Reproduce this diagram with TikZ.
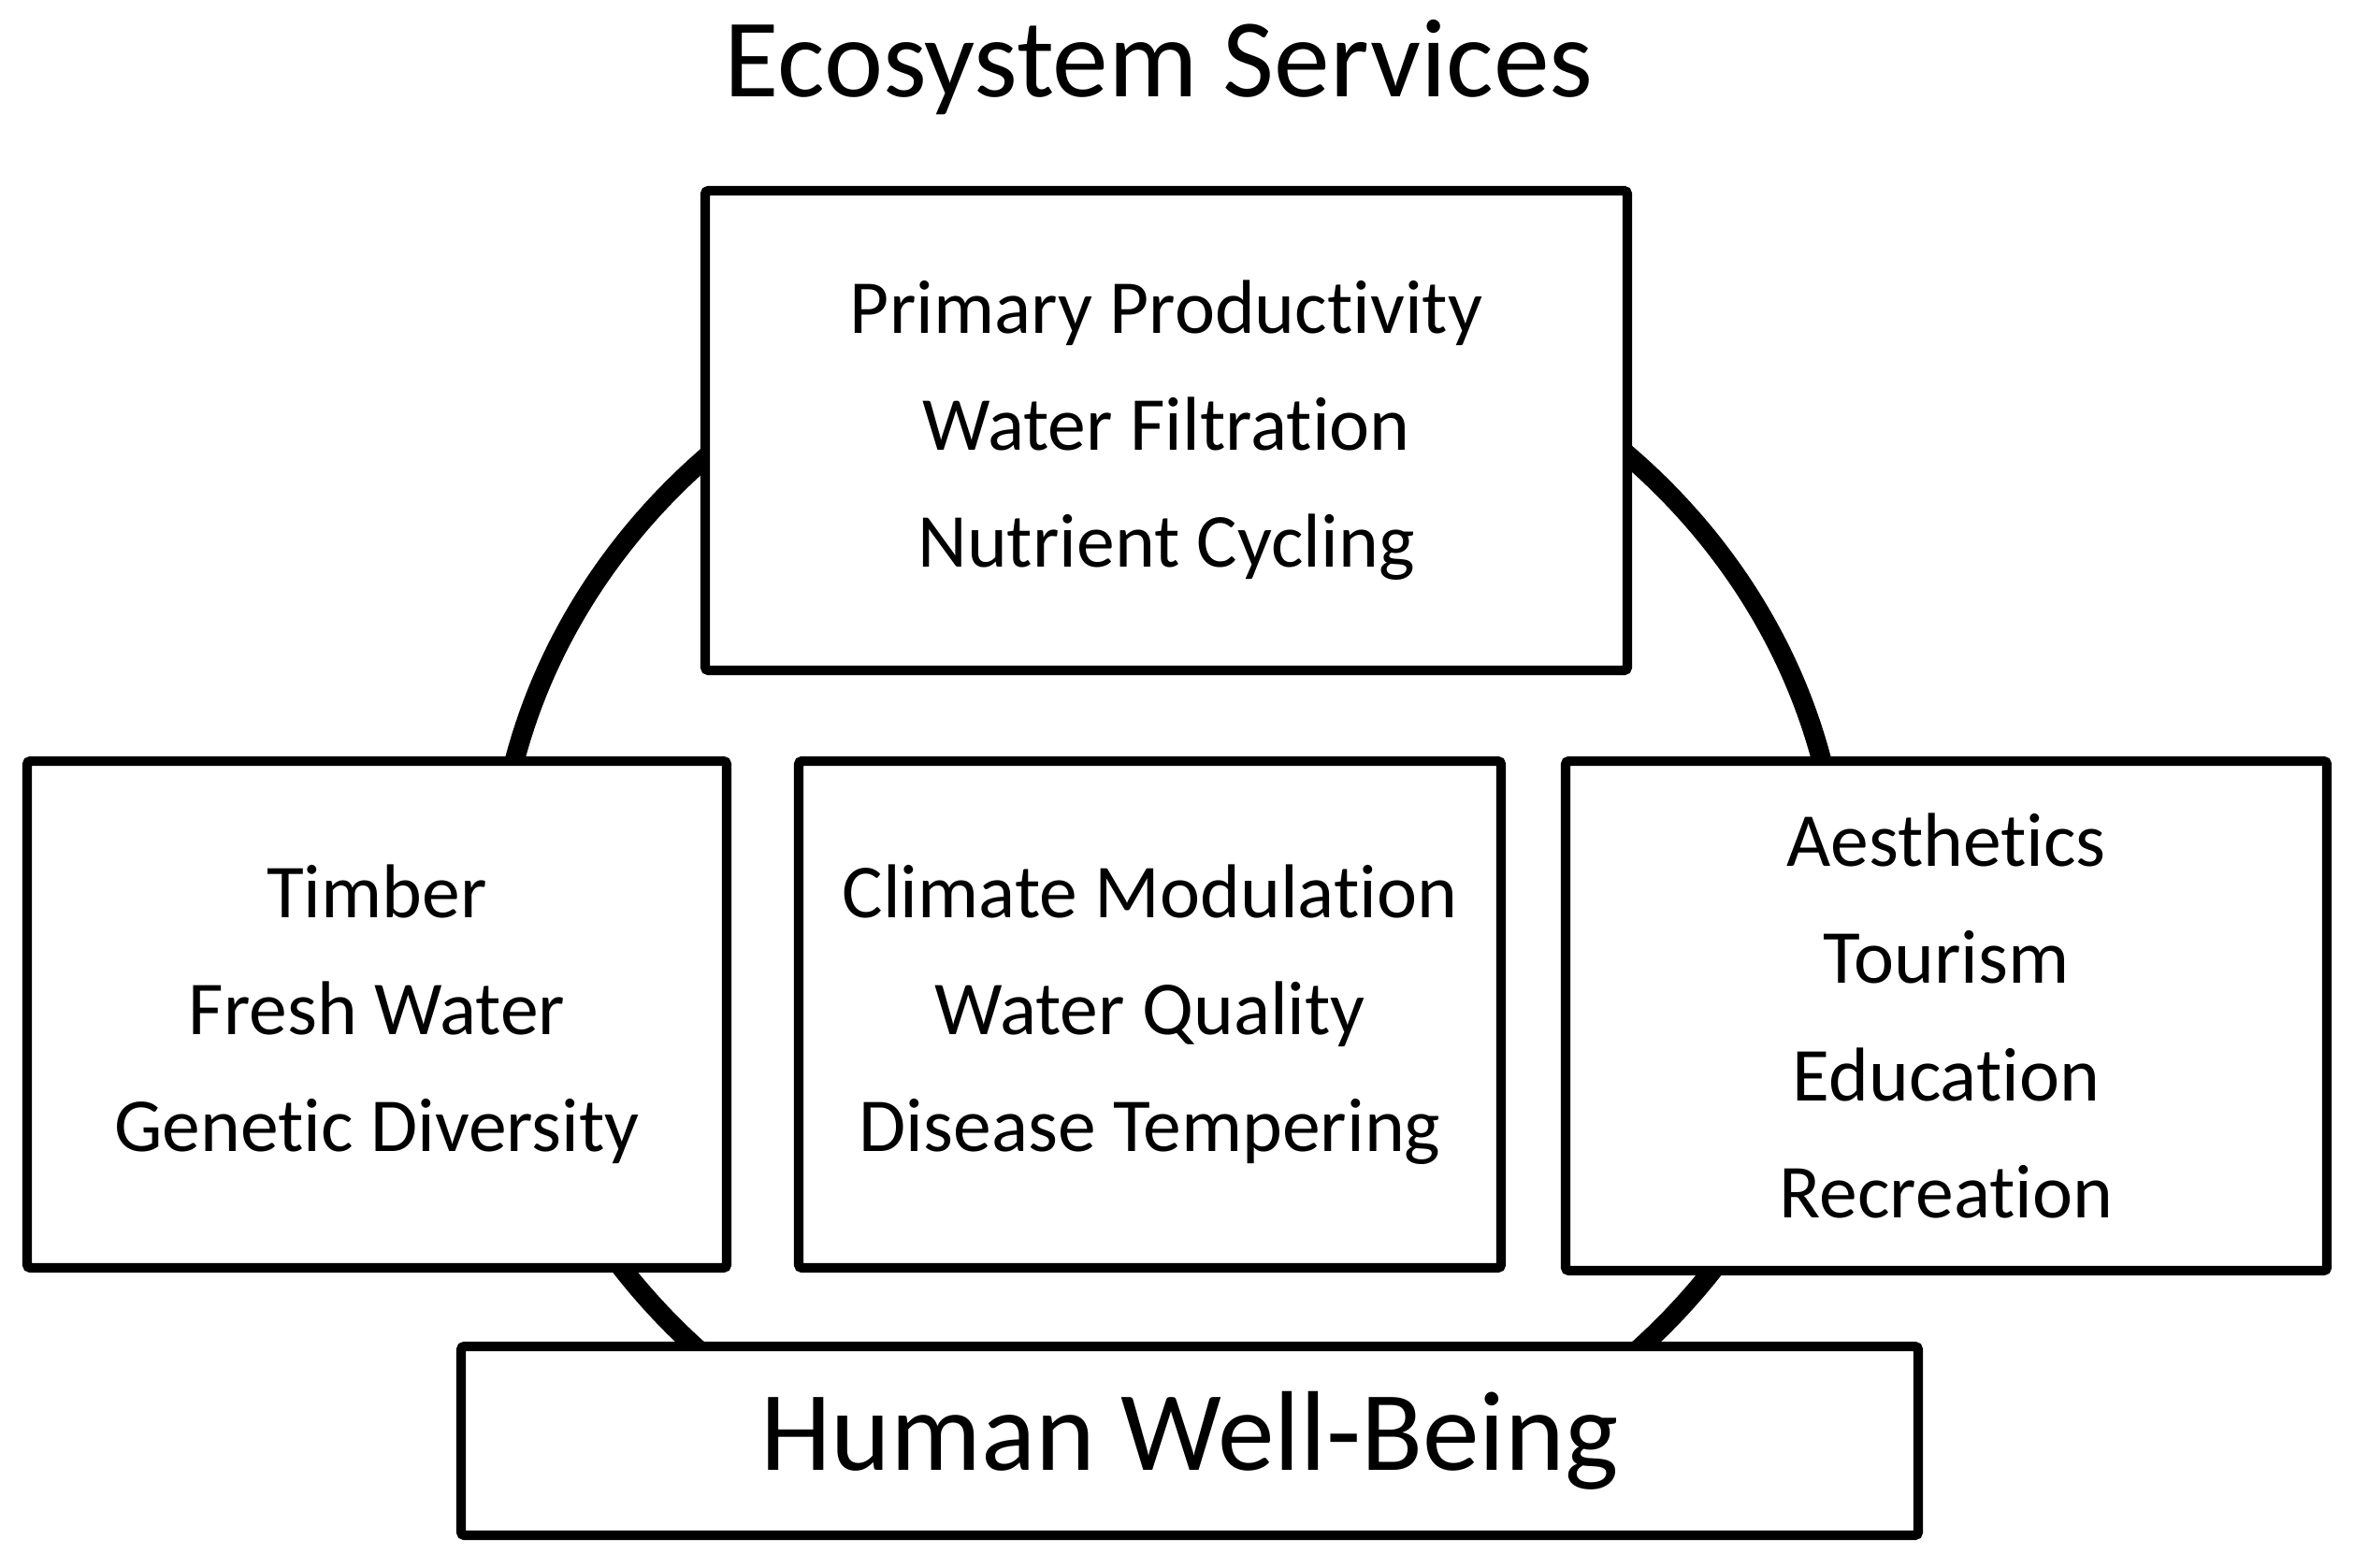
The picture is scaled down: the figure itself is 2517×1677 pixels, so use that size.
\documentclass[tikz,border=0pt]{standalone}
\usepackage{fontspec}
\setmainfont{Carlito}[Ligatures=NoCommon]
\begin{document}
\begin{tikzpicture}[x=0.01cm,y=-0.01cm,
  box/.style={draw=black,line width=2.9pt,fill=white,rounded corners=1pt},
  txt/.style={font=\fontsize{23.2}{35.6}\selectfont,align=center,inner sep=0pt}]
\useasboundingbox (0,0) rectangle (2517,1677);
\node[inner sep=0pt,font=\fontsize{34}{40}\selectfont] (title) at (1239,72) {Ecosystem Services};
\draw[line width=6pt] (1249,970) ellipse [x radius=719, y radius=662];
\draw[box] (754,204) rectangle (1740,717) node[midway,txt] (top) {Primary Productivity\\Water Filtration\\Nutrient Cycling};
\draw[box] (29,814) rectangle (777,1356) node[midway,txt] (left) {Timber\\Fresh Water\\Genetic Diversity};
\draw[box] (854,814) rectangle (1605,1356) node[midway,txt] (mid) {Climate Modulation\\Water Quality\\Disease Tempering};
\draw[box] (1674,814) rectangle (2488,1359) node[midway,txt] (right) {Aesthetics\\Tourism\\Education\\Recreation};
\draw[box] (493,1440) rectangle (2051,1642) node[midway,inner sep=0pt,font=\fontsize{34.5}{40}\selectfont] (hwb) {Human Well-Being};
\end{tikzpicture}
\end{document}
